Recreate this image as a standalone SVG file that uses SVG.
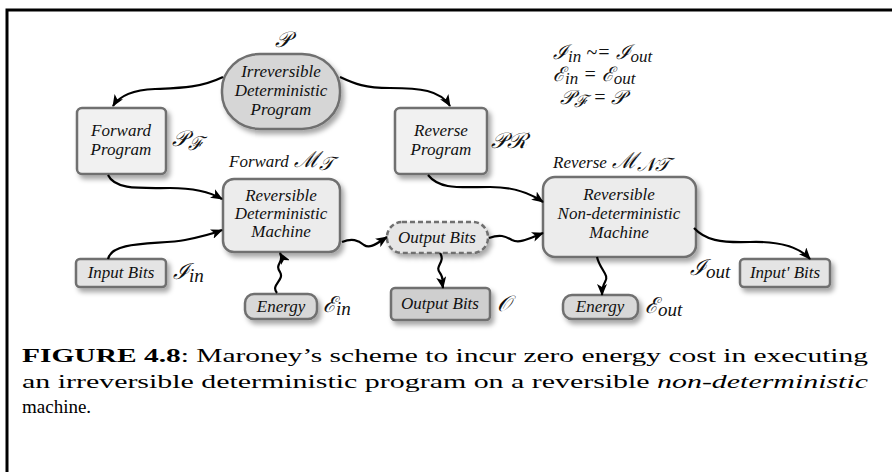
<svg xmlns="http://www.w3.org/2000/svg" width="892" height="472" viewBox="0 0 892 472">
<style>
.nd{stroke:#6f6f6f;stroke-width:2.5;filter:url(#sh)}
.t{font-family:"Liberation Serif","DejaVu Serif",serif;font-style:italic;font-size:17px;fill:#111;text-anchor:middle}
.m{font-family:"Liberation Serif","DejaVu Serif",serif;font-style:italic;font-size:22px;fill:#111}
.m .s{font-size:19px}
.eq{font-size:20px}
.eq .s{font-size:17px}
.c path{fill:none;stroke:#000;stroke-width:2.2;marker-end:url(#ar)}
.cap{font-family:"Liberation Serif","Times New Roman",serif;font-size:19px;fill:#000}
</style>
<defs>
<filter id="sh" x="-20%" y="-20%" width="150%" height="160%">
<feDropShadow dx="3" dy="4" stdDeviation="2.5" flood-color="#000" flood-opacity="0.35"/>
</filter>
<marker id="ar" viewBox="0 0 12 10" refX="11" refY="5" markerWidth="12" markerHeight="10" markerUnits="userSpaceOnUse" orient="auto">
<path d="M0,0 L12,5 L0,10 L3,5 Z" fill="#000"/>
</marker>
</defs>
<rect width="892" height="472" fill="#fff"/>
<path d="M7,472 V10 H892" fill="none" stroke="#000" stroke-width="3"/>

<g id="irreversible-program">
<rect class="nd" x="222" y="54" width="118" height="75" rx="38" ry="36" fill="#d6d6d6"/>
<text class="t" x="281" y="77">Irreversible</text>
<text class="t" x="281" y="96">Deterministic</text>
<text class="t" x="281" y="115">Program</text>
<text class="m" x="275" y="47">𝒫</text>
</g>
<g id="forward-program">
<rect class="nd" x="77" y="108" width="89" height="66" rx="5" fill="#f1f1f1"/>
<text class="t" x="121" y="136">Forward</text>
<text class="t" x="121" y="155">Program</text>
<text class="m" x="172" y="146">𝒫<tspan class="s" dy="4">ℱ</tspan></text>
</g>
<g id="reverse-program">
<rect class="nd" x="395" y="108" width="92" height="66" rx="5" fill="#f1f1f1"/>
<text class="t" x="441" y="136">Reverse</text>
<text class="t" x="441" y="155">Program</text>
<text class="m" x="491" y="148">𝒫ℛ</text>
</g>
<g id="equations">
<text class="m eq" x="553" y="59">ℐ<tspan class="s" dy="3">in</tspan><tspan dy="-3"> ~= ℐ</tspan><tspan class="s" dy="3">out</tspan></text>
<text class="m eq" x="553" y="81">ℰ<tspan class="s" dy="3">in</tspan><tspan dy="-3"> = ℰ</tspan><tspan class="s" dy="3">out</tspan></text>
<text class="m eq" x="560" y="104">𝒫<tspan class="s" dy="3">ℱ</tspan><tspan dy="-3"> = 𝒫</tspan></text>
</g>
<g id="forward-machine">
<rect class="nd" x="223" y="179" width="117" height="73" rx="11" fill="#ececec"/>
<text class="t" x="281" y="201">Reversible</text>
<text class="t" x="281" y="219">Deterministic</text>
<text class="t" x="281" y="237">Machine</text>
<text class="m" x="229" y="167"><tspan class="t" style="text-anchor:start">Forward</tspan> ℳ<tspan class="s" dy="3">𝒯</tspan></text>
</g>
<g id="reverse-machine">
<rect class="nd" x="543" y="177" width="153" height="80" rx="12" fill="#ececec"/>
<text class="t" x="619" y="200">Reversible</text>
<text class="t" x="619" y="219">Non-deterministic</text>
<text class="t" x="619" y="238">Machine</text>
<text class="m" x="553" y="168"><tspan class="t" style="text-anchor:start">Reverse</tspan> ℳ<tspan class="s" dy="3">𝒩𝒯</tspan></text>
</g>
<g id="input-bits">
<rect class="nd" x="76" y="259" width="90" height="28" rx="4" fill="#e4e4e4"/>
<text class="t" x="121" y="278">Input Bits</text>
<text class="m" x="173" y="279">ℐ<tspan class="s" dy="3">in</tspan></text>
</g>
<g id="energy-in">
<rect class="nd" x="245" y="294" width="72" height="25" rx="9" fill="#d8d8d8"/>
<text class="t" x="281" y="312">Energy</text>
<text class="m" x="323" y="312">ℰ<tspan class="s" dy="3">in</tspan></text>
</g>
<g id="output-bits-dashed">
<rect x="387" y="222" width="101" height="31" rx="15" fill="#e6e6e6" stroke="#6f6f6f" stroke-width="2.5" stroke-dasharray="5,3" filter="url(#sh)"/>
<text class="t" x="437" y="243">Output Bits</text>
</g>
<g id="output-bits">
<rect class="nd" x="391" y="288" width="99" height="32" rx="4" fill="#cfcfcf"/>
<text class="t" x="440" y="309">Output Bits</text>
<text class="m" x="497" y="311">𝒪</text>
</g>
<g id="energy-out">
<rect class="nd" x="563" y="295" width="75" height="24" rx="9" fill="#d8d8d8"/>
<text class="t" x="600" y="312">Energy</text>
<text class="m" x="645" y="313">ℰ<tspan class="s" dy="3">out</tspan></text>
</g>
<g id="input-prime-bits">
<rect class="nd" x="740" y="259" width="90" height="28" rx="4" fill="#e4e4e4"/>
<text class="t" x="785" y="278">Input' Bits</text>
<text class="m" x="690" y="275">ℐ<tspan class="s" dy="3">out</tspan></text>
</g>

<g id="connectors" class="c">
<path d="M223 77 C200 88,180 88,155 89 C130 90,118 98,113 106"/>
<path d="M340 77 C355 84,365 88,390 88 C420 88,440 90,450 106"/>
<path d="M108 175 C115 190,140 188,170 188 C195 188,210 192,222 199"/>
<path d="M108 259 C112 240,160 245,185 240 C200 237,212 234,222 230"/>
<path d="M277 293 C270 285,285 280,280 272 C274 264,285 262,280 253"/>
<path d="M342 242 C352 238,358 240,364 245 C370 249,376 244,387 237"/>
<path d="M489 238 C500 234,505 236,512 240 C520 244,530 238,543 233"/>
<path d="M440 253 C446 262,434 266,440 273 C444 278,442 282,443 288"/>
<path d="M428 175 C440 190,460 187,490 187 C515 187,530 193,543 202"/>
<path d="M597 257 C600 270,610 275,605 282 C602 287,602 290,602 295"/>
<path d="M694 228 C705 240,720 243,750 242 C780 241,800 248,810 259"/>
</g>

<g id="caption">
<text class="cap" x="22" y="362" textLength="846" lengthAdjust="spacingAndGlyphs"><tspan font-weight="bold">FIGURE 4.8</tspan>: Maroney’s scheme to incur zero energy cost in executing</text>
<text class="cap" x="22" y="388" textLength="846" lengthAdjust="spacingAndGlyphs">an irreversible deterministic program on a reversible <tspan font-style="italic">non-deterministic</tspan></text>
<text class="cap" x="22" y="413">machine.</text>
</g>
</svg>
